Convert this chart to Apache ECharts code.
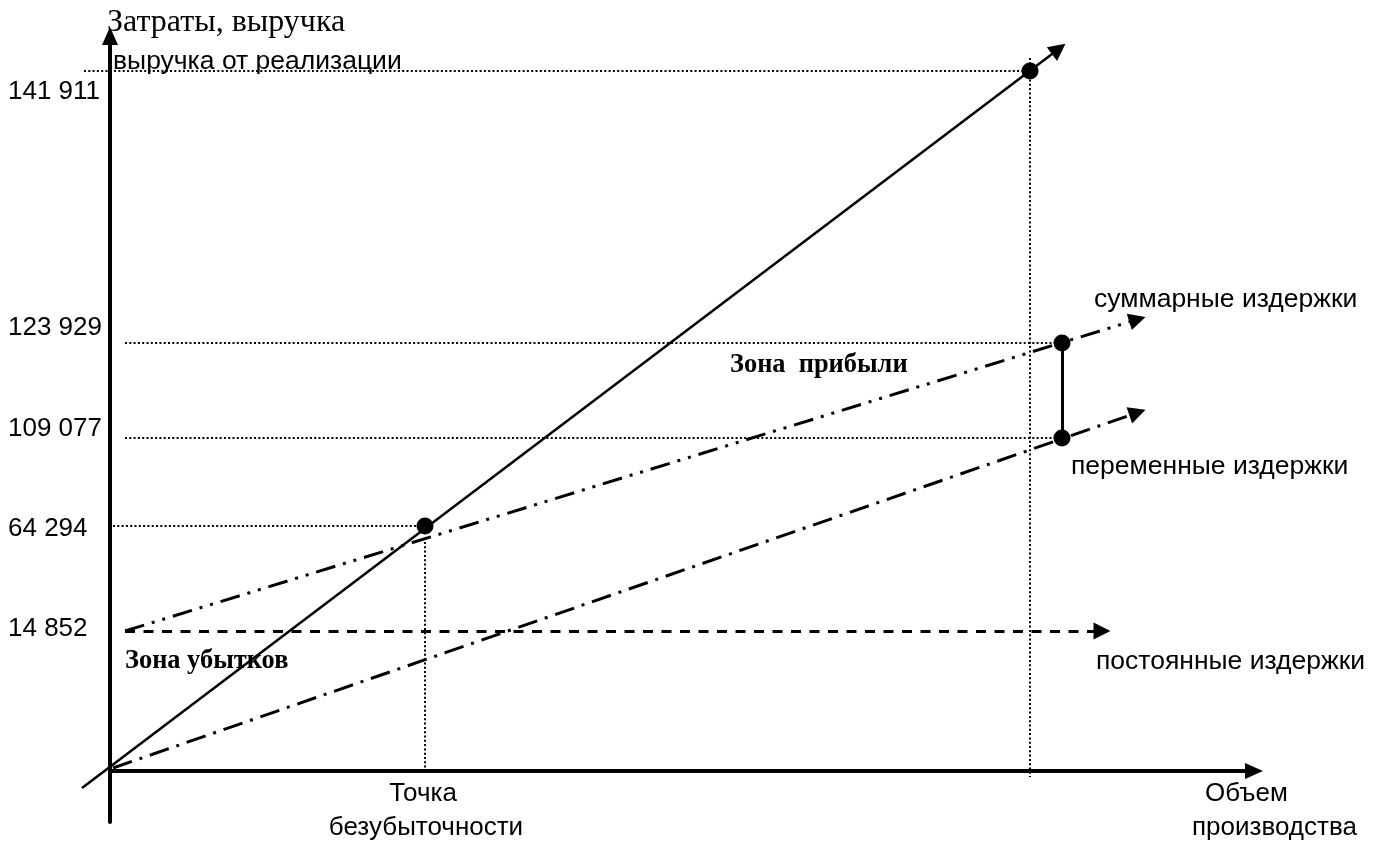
<!DOCTYPE html>
<html><head><meta charset="utf-8">
<script src="https://cdn.jsdelivr.net/npm/echarts@6/dist/echarts.min.js"></script>
<style>html,body{margin:0;padding:0;background:#fff}#c{width:1381px;height:841px}</style>
</head><body><div id="c"></div>
<script>
// Schematic break-even chart (axis units are drawing units; tick labels are the real values)
const yTickLabels = ['141 911', '123 929', '109 077', '64 294', '14 852'];
const yTickPositions = [67.9, 44.3, 34.2, 24.2, 14.2];

const revenueLine = [[-2.8, -1.7], [94.87, 72.2]];
const totalCostLine = [[1.5, 14.0], [102.74, 45.16]];
const variableCostLine = [[0.3, 0.3], [102.74, 35.84]];
const fixedCostLine = [[1.5, 14.0], [99.2, 14.0]];
const profitSegment = [[95.2, 33.3], [95.2, 42.8]];
const keyPoints = [[31.5, 24.5], [92.0, 70.0], [95.2, 42.8], [95.2, 33.3]];
const guideLines = [
  [[-2.6, 70.0], [92.0, 70.0]],
  [[92.0, 71.3], [92.0, -0.6]],
  [[1.5, 42.8], [95.2, 42.8]],
  [[1.5, 33.3], [95.2, 33.3]],
  [[0.3, 24.5], [31.5, 24.5]],
  [[31.5, 22.9], [31.5, 0]]
];

const chart = echarts.init(document.getElementById('c'), null, {renderer: 'canvas'});
const black = '#000';
const sans = '"Liberation Sans", Arial, sans-serif';
const serif = '"Liberation Serif", "Times New Roman", serif';

function arrowLine(coords, type, width) {
  return {
    type: 'lines', coordinateSystem: 'cartesian2d', clip: false, silent: true,
    symbol: ['none', 'triangle'], symbolSize: [14, 17],
    lineStyle: {color: black, width: width, type: type, opacity: 1, curveness: 0},
    itemStyle: {color: black},
    data: [{coords: coords}], z: 3
  };
}

const option = {
  backgroundColor: '#fff',
  animation: false,
  grid: {left: 110, right: 127, top: 36, bottom: 19, containLabel: false},
  xAxis: {
    type: 'value', min: 0, max: 114.4,
    axisLine: {show: true, onZero: true, symbol: ['none', 'triangle'], symbolSize: [16, 18],
      lineStyle: {color: black, width: 4}},
    axisTick: {show: false}, axisLabel: {show: false}, splitLine: {show: false}
  },
  yAxis: {
    type: 'value', min: -5.1, max: 73.5,
    axisLine: {show: true, onZero: true, symbol: ['none', 'triangle'], symbolSize: [16, 18],
      lineStyle: {color: black, width: 4}},
    axisTick: {show: false}, splitLine: {show: false},
    axisLabel: {
      show: true, customValues: yTickPositions, align: 'left', margin: 102,
      color: black, fontSize: 26, fontFamily: sans,
      formatter: function (v) {
        let best = 0;
        for (let i = 0; i < yTickPositions.length; i++) {
          if (Math.abs(yTickPositions[i] - v) < Math.abs(yTickPositions[best] - v)) best = i;
        }
        return yTickLabels[best];
      }
    }
  },
  series: [
    {
      type: 'lines', coordinateSystem: 'cartesian2d', clip: false, silent: true,
      symbol: ['none', 'none'],
      lineStyle: {color: black, width: 2, type: [2, 2.3], opacity: 1},
      data: guideLines.map(c => ({coords: c})), z: 2
    },
    arrowLine(revenueLine, 'solid', 2.5),
    arrowLine(totalCostLine, [20, 8, 3, 8, 3, 8], 3),
    arrowLine(variableCostLine, [20, 8, 3, 8], 3),
    arrowLine(fixedCostLine, [10, 8.5], 3),
    {
      type: 'lines', coordinateSystem: 'cartesian2d', clip: false, silent: true,
      symbol: ['none', 'none'],
      lineStyle: {color: black, width: 3, type: 'solid', opacity: 1},
      data: [{coords: profitSegment}], z: 3
    },
    {
      type: 'scatter', data: keyPoints, symbol: 'circle', symbolSize: 17, clip: false, silent: true,
      itemStyle: {color: black, opacity: 1}, z: 4
    }
  ],
  graphic: [
    {type: 'text', z: 10, style: {text: 'Затраты, выручка', x: 107, y: 23, font: '32px ' + serif, fill: black, verticalAlign: 'middle'}},
    {type: 'text', z: 10, style: {text: 'выручка от реализации', x: 113, y: 62, font: '26.5px ' + sans, fill: black, verticalAlign: 'middle'}},
    {type: 'text', z: 10, style: {text: 'суммарные издержки', x: 1094, y: 300, font: '26.5px ' + sans, fill: black, verticalAlign: 'middle'}},
    {type: 'text', z: 10, style: {text: 'переменные издержки', x: 1071, y: 467, font: '26.5px ' + sans, fill: black, verticalAlign: 'middle'}},
    {type: 'text', z: 10, style: {text: 'постоянные издержки', x: 1096, y: 662, font: '26.5px ' + sans, fill: black, verticalAlign: 'middle'}},
    {type: 'text', z: 10, style: {text: 'Зона  прибыли', x: 730, y: 365, font: 'bold 26.4px ' + serif, fill: black, verticalAlign: 'middle'}},
    {type: 'text', z: 10, style: {text: 'Зона убытков', x: 125, y: 661, font: 'bold 26.4px ' + serif, fill: black, verticalAlign: 'middle'}},
    {type: 'text', z: 10, style: {text: 'Точка', x: 423, y: 794, font: '26px ' + sans, fill: black, align: 'center', verticalAlign: 'middle'}},
    {type: 'text', z: 10, style: {text: 'безубыточности', x: 426, y: 828, font: '26px ' + sans, fill: black, align: 'center', verticalAlign: 'middle'}},
    {type: 'text', z: 10, style: {text: 'Объем', x: 1205, y: 794, font: '26px ' + sans, fill: black, verticalAlign: 'middle'}},
    {type: 'text', z: 10, style: {text: 'производства', x: 1192, y: 828, font: '26px ' + sans, fill: black, verticalAlign: 'middle'}}
  ]
};
chart.setOption(option);
</script>
</body></html>
